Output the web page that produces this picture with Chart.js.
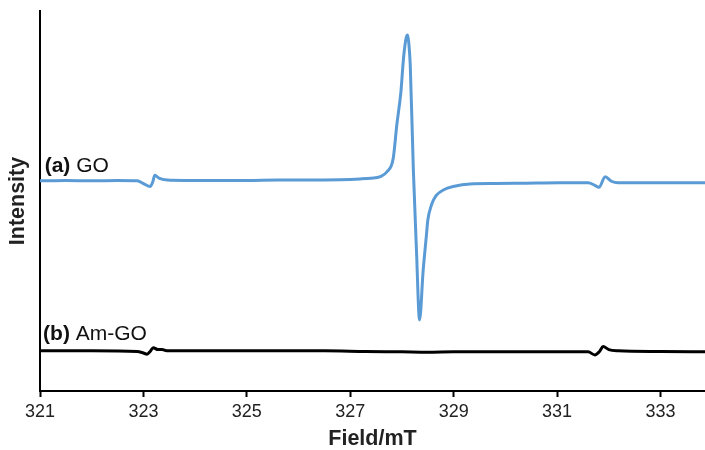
<!DOCTYPE html>
<html>
<head>
<meta charset="utf-8">
<title>EPR spectra</title>
<script src="https://cdn.jsdelivr.net/npm/chart.js@4.4.1/dist/chart.umd.min.js"></script>
<style>
    html, body { margin: 0; padding: 0; background: #fff; }
    #wrap { width: 705px; height: 450px; }
</style>
</head>
<body>
<div id="wrap"><canvas id="epr_chart" width="705" height="450"></canvas></div>
<script>
// field values (mT) and intensities (arbitrary units)
var goField = [321.00, 321.50, 322.00, 322.50, 322.88, 323.00, 323.13, 323.18, 323.22, 323.30,
    323.46, 323.80, 324.40, 325.00, 325.60, 326.20, 326.80, 327.19, 327.40, 327.58,
    327.71, 327.83, 327.90, 327.98, 328.03, 328.08, 328.11, 328.13, 328.16, 328.22,
    328.28, 328.34, 328.41, 328.47, 328.50, 328.56, 328.61, 328.67, 328.80, 328.99,
    329.32, 329.80, 330.40, 331.06, 331.60, 331.72, 331.81, 331.93, 332.05, 332.18,
    333.00, 333.86];
var goIntensity = [55.3, 55.4, 55.3, 55.4, 55.3, 54.6, 53.8, 55.0, 56.8, 56.0,
    55.5, 55.4, 55.4, 55.4, 55.5, 55.5, 55.6, 55.8, 56.0, 56.4,
    57.7, 61.2, 70.0, 78.8, 87.6, 92.9, 93.7, 91.8, 85.8, 58.2,
    37.1, 18.7, 31.8, 40.6, 45.0, 48.5, 50.3, 51.6, 52.9, 53.8,
    54.5, 54.6, 54.7, 54.8, 54.8, 54.2, 53.6, 56.4, 55.2, 54.8,
    54.8, 54.8];

var amField = [321.00, 322.00, 322.88, 323.00, 323.07, 323.13, 323.19, 323.28, 323.36, 323.45,
    325.00, 326.50, 327.30, 328.00, 328.50, 329.00, 330.00, 331.00, 331.60, 331.73,
    331.82, 331.89, 332.00, 332.18, 333.00, 333.86];
var amIntensity = [10.6, 10.6, 10.4, 10.0, 9.7, 10.4, 11.4, 10.9, 10.9, 10.6,
    10.6, 10.6, 10.4, 10.3, 10.2, 10.3, 10.3, 10.3, 10.3, 9.5,
    10.4, 11.7, 10.9, 10.6, 10.4, 10.3];

var fieldTicks = [321, 323, 325, 327, 329, 331, 333];

// curve labels: [bold part, plain part, field, intensity]
var curveLabels = [
    ['(a)', ' GO', 321.09, 57.6],
    ['(b)', ' Am-GO', 321.06, 13.4]
];

function toPoints(xs, ys) {
    var pts = [];
    for (var i = 0; i < xs.length; i++) {
        pts.push({x: xs[i], y: ys[i]});
    }
    return pts;
}

var labelPlugin = {
    id: 'curveLabels',
    afterDatasetsDraw: function (chart) {
        var c = chart.ctx;
        var xs = chart.scales.x;
        var ys = chart.scales.y;
        c.save();
        c.fillStyle = '#111';
        c.textBaseline = 'alphabetic';
        c.textAlign = 'left';
        for (var i = 0; i < curveLabels.length; i++) {
            var px = xs.getPixelForValue(curveLabels[i][2]);
            var py = ys.getPixelForValue(curveLabels[i][3]);
            c.font = 'bold 21px "Liberation Sans", Arial, sans-serif';
            c.fillText(curveLabels[i][0], px, py);
            var w = c.measureText(curveLabels[i][0]).width;
            c.font = '21px "Liberation Sans", Arial, sans-serif';
            c.fillText(curveLabels[i][1], px + w, py);
        }
        c.restore();
    }
};

var chart = new Chart('epr_chart', {
    type: 'line',
    data: {
        datasets: [{
            label: 'GO',
            data: toPoints(goField, goIntensity),
            borderColor: '#5B9BD5',
            borderWidth: 3,
            pointRadius: 0,
            cubicInterpolationMode: 'monotone'
        }, {
            label: 'Am-GO',
            data: toPoints(amField, amIntensity),
            borderColor: '#000000',
            borderWidth: 3,
            pointRadius: 0,
            cubicInterpolationMode: 'monotone'
        }]
    },
    options: {
        responsive: false,
        animation: false,
        layout: {padding: {top: 11, right: 0, bottom: 0, left: 0}},
        plugins: {
            legend: {display: false},
            tooltip: {enabled: false}
        },
        scales: {
            x: {
                type: 'linear',
                min: 321,
                max: 333.86,
                afterBuildTicks: function (scale) {
                    scale.ticks = fieldTicks.map(function (v) { return {value: v}; });
                },
                afterFit: function (scale) { scale.height = 59; },
                grid: {
                    display: true,
                    drawOnChartArea: false,
                    drawTicks: true,
                    tickLength: 6,
                    tickWidth: 2,
                    tickColor: '#000'
                },
                border: {display: true, color: '#000', width: 2},
                ticks: {
                    color: '#222',
                    padding: 4,
                    maxRotation: 0,
                    font: {family: '"Liberation Sans", Arial, sans-serif', size: 18}
                },
                title: {
                    display: true,
                    text: 'Field/mT',
                    color: '#222',
                    padding: {top: 0, bottom: 0},
                    font: {family: '"Liberation Sans", Arial, sans-serif', size: 21.5, weight: 'bold', lineHeight: 1}
                }
            },
            y: {
                min: 0,
                max: 100,
                afterFit: function (scale) { scale.width = 40; },
                grid: {display: false},
                border: {display: true, color: '#000', width: 2},
                ticks: {display: false},
                title: {
                    display: true,
                    text: 'Intensity',
                    color: '#222',
                    padding: {top: 5, bottom: 0},
                    font: {family: '"Liberation Sans", Arial, sans-serif', size: 21.5, weight: 'bold', lineHeight: 1.2}
                }
            }
        }
    },
    plugins: [labelPlugin]
});
</script>
</body>
</html>
